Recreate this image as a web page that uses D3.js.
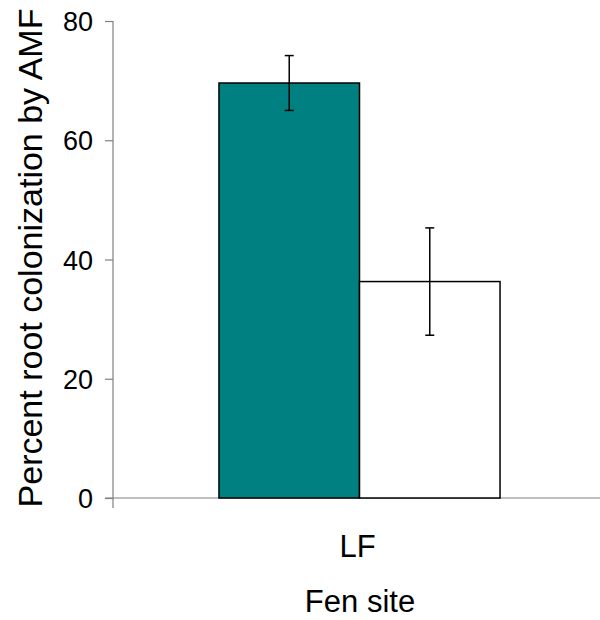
<!DOCTYPE html>
<html><head><meta charset="utf-8">
<script src="https://cdn.jsdelivr.net/npm/d3@7"></script>
<style>body{margin:0;background:#fff}svg{display:block}text{font-family:Arial,"Liberation Sans",sans-serif;fill:#000}</style>
</head><body>
<script>
const categories = ["LF"];
const seriesNames = ["AMF+", "AMF-"];
const seriesMeans = [69.6, 36.3];
const seriesErrors = [4.6, 9.0];
const seriesColors = ["#008080", "#ffffff"];
const yTicks = [0, 20, 40, 60, 80];
const yLabel = "Percent root colonization by AMF";
const xLabel = "Fen site";

const W = 600, H = 620;
const svg = d3.select("body").append("svg").attr("width", W).attr("height", H);

const mLeft = 113, mTop = 21, mBottom = 498, mRight = 606;
const y = d3.scaleLinear().domain([0, 80]).range([mBottom, mTop]);
const x0 = d3.scaleBand().domain(categories).range([mLeft, mRight]).padding(0);
const x1 = d3.scaleBand().domain(seriesNames).range([0, x0.bandwidth()]).paddingInner(0).paddingOuter(0.754);

const axisColor = "#808080";

// y axis
const yAxis = svg.append("g").attr("transform", `translate(${mLeft},0)`)
  .call(d3.axisLeft(y).tickValues(yTicks).tickSize(8).tickSizeOuter(0).tickPadding(12).tickFormat(d3.format("d")));
yAxis.select(".domain").remove();
yAxis.selectAll(".tick line").attr("stroke", axisColor).attr("stroke-width", 1.2);
yAxis.selectAll(".tick text").attr("font-size", 27).attr("dy", "0.36em").style("font-family", "Arial, 'Liberation Sans', sans-serif");
svg.append("line").attr("x1", mLeft).attr("x2", mLeft).attr("y1", y(80)).attr("y2", mBottom + 10)
  .attr("stroke", axisColor).attr("stroke-width", 1.2);

// x axis
svg.append("line").attr("x1", mLeft - 8).attr("x2", W).attr("y1", mBottom).attr("y2", mBottom)
  .attr("stroke", axisColor).attr("stroke-width", 1.2);

const data = categories.flatMap(c => seriesNames.map((s, i) => ({c, s, v: seriesMeans[i], e: seriesErrors[i], col: seriesColors[i]})));

const g = svg.append("g");
g.selectAll("rect").data(data).join("rect")
  .attr("x", d => x0(d.c) + x1(d.s))
  .attr("y", d => y(d.v))
  .attr("width", x1.bandwidth())
  .attr("height", d => mBottom - y(d.v))
  .attr("fill", d => d.col)
  .attr("stroke", "#000").attr("stroke-width", 1.5);

// error bars
const eb = svg.append("g").attr("stroke", "#000").attr("stroke-width", 1.5);
data.forEach(d => {
  const cx = x0(d.c) + x1(d.s) + x1.bandwidth() / 2;
  eb.append("line").attr("x1", cx).attr("x2", cx).attr("y1", y(d.v + d.e)).attr("y2", y(d.v - d.e));
  eb.append("line").attr("x1", cx - 4.5).attr("x2", cx + 4.5).attr("y1", y(d.v + d.e)).attr("y2", y(d.v + d.e));
  eb.append("line").attr("x1", cx - 4.5).attr("x2", cx + 4.5).attr("y1", y(d.v - d.e)).attr("y2", y(d.v - d.e));
});

// category label
categories.forEach(c => {
  svg.append("text").attr("x", x0(c) + x0.bandwidth() / 2 - 2).attr("y", 557)
    .attr("text-anchor", "middle").attr("font-size", 31).text(c);
});

svg.append("text").attr("x", 360).attr("y", 612).attr("text-anchor", "middle").attr("font-size", 31).text(xLabel);

svg.append("text").attr("transform", "translate(42,258) rotate(-90)")
  .attr("text-anchor", "middle").attr("font-size", 34).text(yLabel);
</script>
</body></html>
